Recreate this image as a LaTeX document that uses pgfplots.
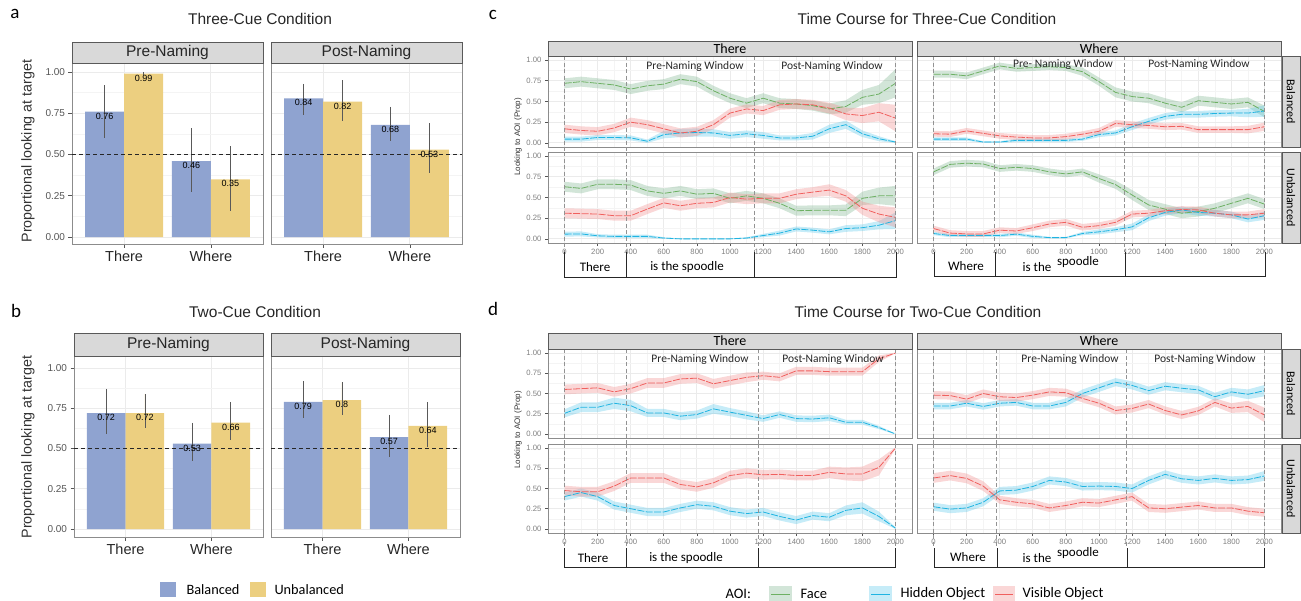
\documentclass[border=0pt]{standalone}
\usepackage{pgfplots}
\pgfplotsset{compat=1.18}
\usepackage{pgfplotstable}
\usepgfplotslibrary{fillbetween}
\usepackage{fontspec}
\setmainfont{Liberation Sans}
\newfontfamily\calfont{Carlito}
\newcommand\fs[1]{\fontsize{#1}{#1}\selectfont}

\definecolor{balblue}{HTML}{8FA3D0}
\definecolor{unbyel}{HTML}{ECCF80}
\definecolor{facegreen}{HTML}{6DB063}
\definecolor{faceband}{HTML}{7DB48E}
\definecolor{hidblue}{HTML}{1FB4E2}
\definecolor{hidband}{HTML}{5CC8EA}
\definecolor{visred}{HTML}{F0605E}
\definecolor{visband}{HTML}{F28B8B}
\definecolor{gridmaj}{HTML}{EBEBEB}
\definecolor{gridmin}{HTML}{F4F4F4}
\definecolor{border}{HTML}{8C8C8C}
\definecolor{stripfill}{HTML}{D9D9D9}
\definecolor{tickcol}{HTML}{555555}

% ---------------- time-course data: m = mean, w = ribbon half-width
\pgfplotstableread{
t fm fw hm hw vm vw
0 0.72 0.06 0.045 0.03 0.17 0.05
100 0.74 0.06 0.045 0.03 0.15 0.05
200 0.72 0.06 0.065 0.03 0.14 0.05
300 0.70 0.06 0.065 0.03 0.18 0.05
400 0.65 0.06 0.06 0.03 0.25 0.055
500 0.69 0.06 0.02 0.02 0.22 0.055
600 0.71 0.06 0.10 0.045 0.17 0.055
700 0.77 0.06 0.12 0.05 0.12 0.055
800 0.74 0.06 0.125 0.05 0.14 0.055
900 0.63 0.06 0.12 0.045 0.22 0.055
1000 0.54 0.06 0.09 0.04 0.36 0.055
1100 0.48 0.06 0.11 0.04 0.41 0.055
1200 0.54 0.06 0.09 0.04 0.39 0.055
1300 0.48 0.06 0.06 0.03 0.46 0.06
1400 0.47 0.06 0.06 0.03 0.47 0.06
1500 0.45 0.06 0.08 0.04 0.46 0.06
1600 0.41 0.065 0.17 0.05 0.42 0.065
1700 0.44 0.075 0.22 0.05 0.35 0.075
1800 0.55 0.09 0.11 0.04 0.33 0.09
1900 0.59 0.11 0.05 0.03 0.37 0.11
2000 0.72 0.17 0.01 0.01 0.30 0.16
}\cTB
\pgfplotstableread{
t fm fw hm hw vm vw
0 0.63 0.06 0.057 0.03 0.31 0.06
100 0.61 0.06 0.06 0.03 0.305 0.06
200 0.66 0.06 0.037 0.02 0.30 0.06
300 0.66 0.06 0.03 0.02 0.28 0.06
400 0.65 0.06 0.03 0.02 0.28 0.06
500 0.58 0.06 0.03 0.02 0.36 0.06
600 0.55 0.06 0.01 0.01 0.435 0.06
700 0.58 0.06 0.0 0.005 0.40 0.06
800 0.54 0.06 0.0 0.005 0.43 0.06
900 0.55 0.06 0.0 0.005 0.44 0.06
1000 0.49 0.06 0.0 0.005 0.50 0.06
1100 0.52 0.06 0.01 0.01 0.48 0.06
1200 0.49 0.06 0.04 0.02 0.49 0.06
1300 0.43 0.06 0.07 0.03 0.49 0.06
1400 0.34 0.06 0.12 0.03 0.54 0.06
1500 0.345 0.06 0.105 0.03 0.565 0.06
1600 0.345 0.06 0.085 0.03 0.59 0.07
1700 0.345 0.07 0.125 0.04 0.52 0.07
1800 0.49 0.08 0.135 0.04 0.37 0.08
1900 0.52 0.10 0.165 0.05 0.30 0.10
2000 0.52 0.12 0.22 0.10 0.26 0.12
}\cTU
\pgfplotstableread{
t fm fw hm hw vm vw
0 0.83 0.04 0.045 0.02 0.11 0.035
100 0.83 0.04 0.045 0.02 0.105 0.035
200 0.81 0.04 0.045 0.02 0.145 0.035
300 0.87 0.04 0.01 0.01 0.115 0.035
400 0.93 0.04 0.01 0.01 0.085 0.035
500 0.90 0.04 0.03 0.02 0.07 0.035
600 0.91 0.04 0.03 0.02 0.06 0.035
700 0.92 0.04 0.03 0.02 0.06 0.035
800 0.91 0.04 0.03 0.02 0.075 0.035
900 0.86 0.05 0.045 0.02 0.105 0.035
1000 0.74 0.05 0.10 0.03 0.14 0.04
1100 0.61 0.06 0.12 0.03 0.235 0.04
1200 0.56 0.06 0.195 0.04 0.22 0.04
1300 0.54 0.06 0.26 0.04 0.21 0.04
1400 0.48 0.06 0.32 0.04 0.195 0.04
1500 0.43 0.06 0.345 0.04 0.20 0.04
1600 0.51 0.06 0.345 0.04 0.16 0.04
1700 0.49 0.06 0.355 0.04 0.16 0.04
1800 0.47 0.06 0.36 0.04 0.16 0.04
1900 0.49 0.06 0.36 0.05 0.16 0.045
2000 0.38 0.07 0.385 0.07 0.195 0.05
}\cWB
\pgfplotstableread{
t fm fw hm hw vm vw
0 0.81 0.04 0.065 0.02 0.125 0.035
100 0.90 0.04 0.04 0.02 0.07 0.035
200 0.915 0.04 0.04 0.02 0.06 0.035
300 0.905 0.04 0.04 0.02 0.06 0.035
400 0.85 0.04 0.04 0.02 0.105 0.035
500 0.865 0.04 0.057 0.02 0.095 0.035
600 0.85 0.04 0.03 0.02 0.135 0.04
700 0.81 0.04 0.015 0.01 0.18 0.04
800 0.785 0.04 0.015 0.01 0.20 0.04
900 0.81 0.04 0.065 0.02 0.14 0.04
1000 0.73 0.05 0.085 0.03 0.16 0.04
1100 0.655 0.05 0.11 0.03 0.20 0.04
1200 0.53 0.06 0.145 0.04 0.30 0.04
1300 0.41 0.06 0.255 0.04 0.31 0.04
1400 0.36 0.06 0.32 0.04 0.34 0.04
1500 0.31 0.06 0.35 0.04 0.355 0.04
1600 0.33 0.06 0.32 0.04 0.35 0.04
1700 0.37 0.06 0.31 0.04 0.31 0.04
1800 0.43 0.06 0.29 0.04 0.29 0.04
1900 0.49 0.06 0.24 0.04 0.29 0.04
2000 0.42 0.06 0.28 0.05 0.31 0.05
}\cWU
\pgfplotstableread{
t hm hw vm vw
0 0.255 0.05 0.55 0.06
100 0.33 0.06 0.56 0.06
200 0.33 0.06 0.57 0.06
300 0.38 0.07 0.52 0.06
400 0.35 0.07 0.56 0.06
500 0.26 0.05 0.63 0.06
600 0.26 0.05 0.63 0.06
700 0.22 0.05 0.68 0.06
800 0.24 0.05 0.69 0.06
900 0.31 0.06 0.62 0.06
1000 0.27 0.05 0.66 0.06
1100 0.23 0.05 0.70 0.06
1200 0.19 0.04 0.72 0.05
1300 0.24 0.04 0.70 0.05
1400 0.19 0.04 0.78 0.05
1500 0.185 0.04 0.78 0.05
1600 0.20 0.04 0.77 0.05
1700 0.145 0.03 0.77 0.05
1800 0.145 0.03 0.77 0.05
1900 0.08 0.02 0.93 0.04
2000 0.0 0.005 1.00 0.005
}\dTB
\pgfplotstableread{
t hm hw vm vw
0 0.40 0.05 0.475 0.06
100 0.45 0.05 0.46 0.06
200 0.40 0.05 0.46 0.06
300 0.29 0.05 0.53 0.06
400 0.25 0.05 0.63 0.06
500 0.21 0.05 0.63 0.06
600 0.21 0.05 0.63 0.06
700 0.26 0.05 0.55 0.06
800 0.30 0.05 0.52 0.06
900 0.28 0.05 0.57 0.06
1000 0.22 0.05 0.66 0.06
1100 0.19 0.05 0.69 0.06
1200 0.21 0.05 0.67 0.06
1300 0.155 0.05 0.675 0.06
1400 0.11 0.05 0.66 0.06
1500 0.165 0.05 0.66 0.06
1600 0.145 0.05 0.70 0.07
1700 0.23 0.06 0.68 0.08
1800 0.26 0.07 0.68 0.09
1900 0.155 0.06 0.76 0.10
2000 0.01 0.01 1.00 0.01
}\dTU
\pgfplotstableread{
t hm hw vm vw
0 0.345 0.04 0.48 0.05
100 0.345 0.04 0.475 0.05
200 0.38 0.04 0.43 0.05
300 0.34 0.04 0.50 0.05
400 0.38 0.04 0.46 0.05
500 0.39 0.04 0.45 0.05
600 0.345 0.04 0.48 0.05
700 0.345 0.04 0.52 0.05
800 0.39 0.05 0.51 0.05
900 0.50 0.05 0.44 0.05
1000 0.57 0.05 0.38 0.05
1100 0.64 0.05 0.29 0.05
1200 0.60 0.05 0.315 0.05
1300 0.535 0.05 0.37 0.05
1400 0.59 0.05 0.29 0.05
1500 0.565 0.05 0.235 0.05
1600 0.545 0.05 0.285 0.05
1700 0.46 0.05 0.39 0.05
1800 0.52 0.05 0.32 0.06
1900 0.49 0.06 0.34 0.07
2000 0.535 0.07 0.235 0.09
}\dWB
\pgfplotstableread{
t hm hw vm vw
0 0.275 0.05 0.63 0.06
100 0.245 0.05 0.66 0.06
200 0.26 0.05 0.625 0.06
300 0.33 0.05 0.53 0.06
400 0.47 0.05 0.36 0.05
500 0.48 0.05 0.33 0.05
600 0.525 0.05 0.31 0.05
700 0.60 0.05 0.26 0.05
800 0.58 0.05 0.29 0.05
900 0.525 0.05 0.33 0.05
1000 0.53 0.05 0.32 0.05
1100 0.525 0.05 0.36 0.05
1200 0.50 0.05 0.40 0.05
1300 0.60 0.05 0.26 0.05
1400 0.675 0.05 0.25 0.05
1500 0.62 0.05 0.27 0.05
1600 0.60 0.05 0.29 0.05
1700 0.625 0.05 0.26 0.05
1800 0.60 0.05 0.26 0.05
1900 0.61 0.05 0.22 0.05
2000 0.655 0.06 0.20 0.05
}\dWU

\tikzset{vdash/.style={draw=gray!85, line width=0.9pt, dash pattern=on 4pt off 2.5pt}}

\pgfplotsset{
 gg/.style={scale only axis, anchor=north west,
   axis line style={draw=border, line width=0.9pt},
   grid=both, major grid style={draw=gridmaj, line width=0.9pt},
   minor grid style={draw=gridmin, line width=0.5pt},
   tick align=outside, tick pos=left, major tick length=3.5pt, minor tick length=0pt,
   tick style={draw=tickcol, line width=0.7pt},
   /pgf/number format/assume math mode=true, /pgf/number format/1000 sep={},
   ytick={0,0.25,0.5,0.75,1}, minor ytick={0.125,0.375,0.625,0.875},
   yticklabels={0.00,0.25,0.50,0.75,1.00}},
 barax/.style={gg, xmin=0.4, xmax=2.6, xtick={1,2}, xticklabels={There,Where},
   xticklabel style={font=\fs{14.5}, text=black!85},
   yticklabel style={font=\fs{10}, text=tickcol}},
 noyt/.style={yticklabels={}, ytick style={draw=none}},
 noxt/.style={xticklabels={}, xtick style={draw=none}},
 tcax/.style={gg, set layers, clip=false, width=364pt, xmin=-100, xmax=2100,
   ymin=-0.05, ymax=1.05, xtick={0,200,...,2000}, minor xtick={100,300,...,1900},
   ticklabel style={font=\fs{7.7}, text=tickcol!75}, major tick length=3pt},
 bal/.style={ybar, bar width=0.45, bar shift=0, fill=balblue, draw=none},
 unb/.style={ybar, bar width=0.45, bar shift=0, fill=unbyel, draw=none},
 lbl/.style={nodes near coords, nodes near coords align={below},
   every node near coord/.append style={font=\fs{9}, inner sep=1pt, text=black},
   error bars/.cd, y dir=both, y explicit, error mark=none,
   error bar style={line width=0.7pt, draw=black!65}},
}

\newcommand\band[4]{%
 \addplot[draw=none, forget plot, name path=u#2] table[x=t, y expr=\thisrow{#2}+\thisrow{#3}] {#1};
 \addplot[draw=none, forget plot, name path=l#2] table[x=t, y expr=\thisrow{#2}-\thisrow{#3}] {#1};
 \addplot[fill=#4, fill opacity=0.35, draw=none, forget plot] fill between[of=u#2 and l#2];}
\newcommand\tline[3]{\addplot[#3, line width=0.8pt, dash pattern=on 7pt off 1.5pt, forget plot] table[x=t, y=#2] {#1};}
\newcommand\three[1]{%
 \band{#1}{fm}{fw}{faceband}\band{#1}{hm}{hw}{hidband}\band{#1}{vm}{vw}{visband}%
 \tline{#1}{fm}{facegreen}\tline{#1}{hm}{hidblue}\tline{#1}{vm}{visred}}
\newcommand\two[1]{%
 \band{#1}{hm}{hw}{hidband}\band{#1}{vm}{vw}{visband}%
 \tline{#1}{hm}{hidblue}\tline{#1}{vm}{visred}}
\newcommand\vl[2]{\draw[vdash] (axis cs:#1,1.05) -- (axis cs:#1,#2);}

\begin{document}
\begin{tikzpicture}
% ================= Panel a =================
\begin{axis}[barax, at={(72pt,-63pt)}, width=191pt, height=181pt, ymin=-0.0424, ymax=1.0545]
\addplot[bal, lbl] coordinates {(0.775,0.76) += (0,0.16) -= (0,0.16) (1.775,0.46) += (0,0.20) -= (0,0.19)};
\addplot[unb, lbl] coordinates {(1.225,0.99) += (0,0.01) -= (0,0.01) (2.225,0.35) += (0,0.20) -= (0,0.19)};
\addplot[black!85, line width=0.8pt, dash pattern=on 4pt off 3pt] coordinates {(0.4,0.5) (2.6,0.5)};
\end{axis}
\begin{axis}[barax, noyt, at={(271pt,-63pt)}, width=191pt, height=181pt, ymin=-0.0424, ymax=1.0545]
\addplot[bal, lbl] coordinates {(0.775,0.84) += (0,0.09) -= (0,0.10) (1.775,0.68) += (0,0.11) -= (0,0.10)};
\addplot[unb, lbl] coordinates {(1.225,0.82) += (0,0.13) -= (0,0.12) (2.225,0.53) += (0,0.16) -= (0,0.14)};
\addplot[black!85, line width=0.8pt, dash pattern=on 4pt off 3pt] coordinates {(0.4,0.5) (2.6,0.5)};
\end{axis}
% ================= Panel b =================
\begin{axis}[barax, at={(74pt,-356pt)}, width=189pt, height=181pt, ymin=-0.0497, ymax=1.0745]
\addplot[bal, lbl] coordinates {(0.775,0.72) += (0,0.15) -= (0,0.13) (1.775,0.53) += (0,0.13) -= (0,0.11)};
\addplot[unb, lbl] coordinates {(1.225,0.72) += (0,0.12) -= (0,0.09) (2.225,0.66) += (0,0.13) -= (0,0.11)};
\addplot[black!85, line width=0.8pt, dash pattern=on 4pt off 3pt] coordinates {(0.4,0.5) (2.6,0.5)};
\end{axis}
\begin{axis}[barax, noyt, at={(271pt,-356pt)}, width=189pt, height=181pt, ymin=-0.0497, ymax=1.0745]
\addplot[bal, lbl] coordinates {(0.775,0.79) += (0,0.13) -= (0,0.10) (1.775,0.57) += (0,0.14) -= (0,0.12)};
\addplot[unb, lbl] coordinates {(1.225,0.8) += (0,0.11) -= (0,0.09) (2.225,0.64) += (0,0.15) -= (0,0.13)};
\addplot[black!85, line width=0.8pt, dash pattern=on 4pt off 3pt] coordinates {(0.4,0.5) (2.6,0.5)};
\end{axis}
% ================= Panel c =================
\begin{axis}[tcax, noxt, at={(548pt,-56pt)}, height=91pt]
\three{\cTB}
\vl{0}{-0.11}\vl{375}{-0.11}\vl{1150}{-0.11}\vl{2000}{-0.11}
\end{axis}
\begin{axis}[tcax, at={(548pt,-152pt)}, height=91pt]
\three{\cTU}
\vl{0}{-0.16}\vl{375}{-0.16}\vl{1150}{-0.16}\vl{2000}{-0.16}
\end{axis}
\begin{axis}[tcax, noxt, noyt, at={(917pt,-56pt)}, height=91pt]
\three{\cWB}
\vl{0}{-0.11}\vl{370}{-0.11}\vl{1155}{-0.11}\vl{2000}{-0.11}
\end{axis}
\begin{axis}[tcax, noyt, at={(917pt,-152pt)}, height=91pt]
\three{\cWU}
\vl{0}{-0.16}\vl{370}{-0.16}\vl{1155}{-0.16}\vl{2000}{-0.16}
\end{axis}
% ================= Panel d =================
\begin{axis}[tcax, noxt, at={(548pt,-349pt)}, height=89pt]
\two{\dTB}
\vl{0}{-0.12}\vl{375}{-0.12}\vl{1170}{-0.12}\vl{2000}{-0.12}
\end{axis}
\begin{axis}[tcax, at={(548pt,-444pt)}, height=89pt]
\two{\dTU}
\vl{0}{-0.23}\vl{375}{-0.23}\vl{1170}{-0.23}\vl{2000}{-0.23}
\end{axis}
\begin{axis}[tcax, noxt, noyt, at={(917pt,-349pt)}, height=89pt]
\two{\dWB}
\vl{0}{-0.12}\vl{380}{-0.12}\vl{1165}{-0.12}\vl{2000}{-0.12}
\end{axis}
\begin{axis}[tcax, noyt, at={(917pt,-444pt)}, height=89pt]
\two{\dWU}
\vl{0}{-0.23}\vl{380}{-0.23}\vl{1165}{-0.23}\vl{2000}{-0.23}
\end{axis}

% ================= annotations =================
\begin{scope}[x=1pt, y=-1pt]
\path[use as bounding box] (0,0) rectangle (1301,600);
% panel letters
\node[font=\calfont\fs{19}] at (15,14) {a};
\node[font=\calfont\fs{19}] at (16,311) {b};
\node[font=\calfont\fs{19}] at (493,15) {c};
\node[font=\calfont\fs{19}] at (493,309) {d};
% titles
\node[font=\fs{15.5}, text=black!85] at (260,19) {Three-Cue Condition};
\node[font=\fs{15.5}, text=black!85] at (255,312) {Two-Cue Condition};
\node[font=\fs{15.5}, text=black!85] at (927,19) {Time Course for Three-Cue Condition};
\node[font=\fs{15.5}, text=black!85] at (918,312) {Time Course for Two-Cue Condition};
% y labels
\node[rotate=90, font=\fs{14.3}, text=black!80] at (28,151) {Proportional looking at target};
\node[rotate=90, font=\fs{14.3}, text=black!80] at (28,447) {Proportional looking at target};
\node[rotate=90, font=\fs{8}, text=black!80] at (518,137) {Looking to AOI (Prop)};
\node[rotate=90, font=\fs{8}, text=black!80] at (518,430) {Looking to AOI (Prop)};
% strips a, b
\tikzset{strip/.style={fill=stripfill, draw=gray!70!black, line width=0.8pt}}
\draw[strip] (72,42) rectangle (263,63);  \node[font=\fs{15.5}, text=black!85] at (167.5,52.5) {Pre-Naming};
\draw[strip] (271,42) rectangle (462,63); \node[font=\fs{15.5}, text=black!85] at (366.5,52.5) {Post-Naming};
\draw[strip] (74,333) rectangle (263,356); \node[font=\fs{15.5}, text=black!85] at (168.5,344.5) {Pre-Naming};
\draw[strip] (271,333) rectangle (460,356); \node[font=\fs{15.5}, text=black!85] at (365.5,344.5) {Post-Naming};
% strips c
\draw[strip] (548,41) rectangle (912,56); \node[font=\calfont\fs{14}] at (730,48.5) {There};
\draw[strip] (917,41) rectangle (1281,56); \node[font=\calfont\fs{14}] at (1099,48.5) {Where};
\draw[strip] (1282,56) rectangle (1300,147); \node[rotate=-90, font=\calfont\fs{12}] at (1291,101.5) {Balanced};
\draw[strip] (1282,152) rectangle (1300,243); \node[rotate=-90, font=\calfont\fs{12}] at (1291,197.5) {Unbalanced};
% strips d
\draw[strip] (548,333) rectangle (912,349); \node[font=\calfont\fs{14}] at (730,341) {There};
\draw[strip] (917,333) rectangle (1281,349); \node[font=\calfont\fs{14}] at (1099,341) {Where};
\draw[strip] (1282,349) rectangle (1300,438); \node[rotate=-90, font=\calfont\fs{12}] at (1291,393.5) {Balanced};
\draw[strip] (1282,444) rectangle (1300,533); \node[rotate=-90, font=\calfont\fs{12}] at (1291,488.5) {Unbalanced};
% window labels
\tikzset{win/.style={font=\calfont\fs{11.5}, text=black!85}}
\node[win] at (695,66) {Pre-Naming Window};
\node[win] at (832,66) {Post-Naming Window};
\node[win] at (1063,64) {Pre- Naming Window};
\node[win] at (1199,64) {Post-Naming Window};
\node[win] at (700,359) {Pre-Naming Window};
\node[win] at (833,359) {Post-Naming Window};
\node[win] at (1070,359) {Pre-Naming Window};
\node[win] at (1205,359) {Post-Naming Window};
% brackets c
\tikzset{brk/.style={draw=black!85, line width=0.8pt}}
\draw[brk] (564,252) -- (564,277) -- (896,277) -- (896,252);
\draw[brk] (626,252) -- (626,277); \draw[brk] (754,252) -- (754,277);
\node[font=\calfont\fs{13}] at (595,267) {There};
\node[font=\calfont\fs{13}] at (687,267) {is the spoodle};
\draw[brk] (934,252) -- (934,276) -- (1265,276) -- (1265,252);
\draw[brk] (995,252) -- (995,276); \draw[brk] (1125,252) -- (1125,276);
\node[font=\calfont\fs{13}] at (966,266) {Where};
\node[font=\calfont\fs{13}] at (1037,267) {is the};
\node[font=\calfont\fs{13}] at (1078,262) {spoodle};
% brackets d
\draw[brk] (564,548) -- (564,567) -- (895,567) -- (895,548);
\draw[brk] (626,548) -- (626,567); \draw[brk] (758,548) -- (758,567);
\node[font=\calfont\fs{13}] at (593,558) {There};
\node[font=\calfont\fs{13}] at (686,558) {is the spoodle};
\draw[brk] (934,548) -- (934,567) -- (1264,567) -- (1264,548);
\draw[brk] (997,548) -- (997,567); \draw[brk] (1127,548) -- (1127,567);
\node[font=\calfont\fs{13}] at (968,557) {Where};
\node[font=\calfont\fs{13}] at (1037,558) {is the};
\node[font=\calfont\fs{13}] at (1078,553) {spoodle};
% legend b
\fill[balblue] (160,582) rectangle (176,597);
\node[anchor=west, font=\calfont\fs{14.3}] at (183,589.5) {Balanced};
\fill[unbyel] (250,582) rectangle (266,597);
\node[anchor=west, font=\calfont\fs{14.3}] at (271,589.5) {Unbalanced};
% legend d
\node[anchor=west, font=\calfont\fs{14.5}] at (722,594) {AOI:};
\fill[faceband, fill opacity=0.35] (769,586) rectangle (792,601);
\draw[facegreen, line width=0.9pt] (771,594) -- (790,594);
\node[anchor=west, font=\calfont\fs{14.5}] at (797,594) {Face};
\fill[hidband, fill opacity=0.35] (869,586) rectangle (892,601);
\draw[hidblue, line width=0.9pt] (871,594) -- (890,594);
\node[anchor=west, font=\calfont\fs{14.5}] at (897,594) {Hidden Object};
\fill[visband, fill opacity=0.35] (993,586) rectangle (1015,601);
\draw[visred, line width=0.9pt] (995,594) -- (1013,594);
\node[anchor=west, font=\calfont\fs{14.5}] at (1019,594) {Visible Object};
\end{scope}
\end{tikzpicture}
\end{document}
